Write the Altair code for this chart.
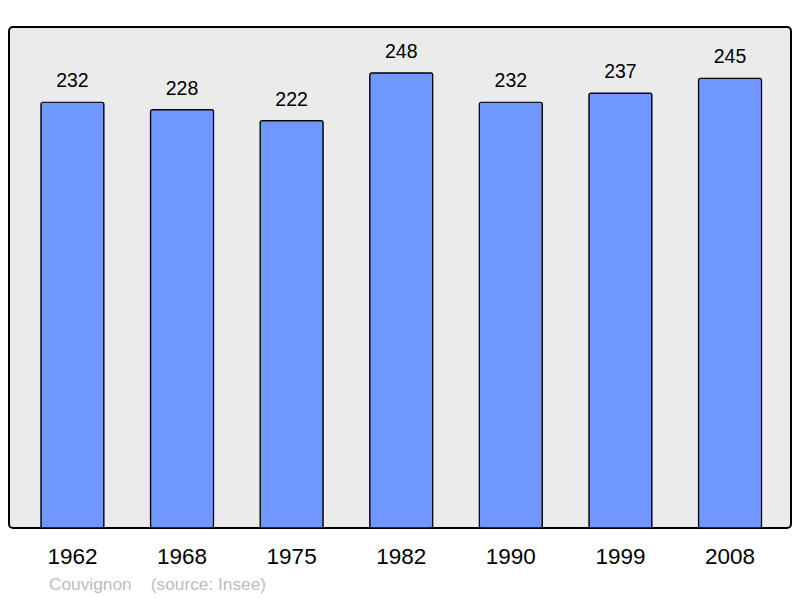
import altair as alt
import pandas as pd

years = ["1962", "1968", "1975", "1982", "1990", "1999", "2008"]
population = [232, 228, 222, 248, 232, 237, 245]

df = pd.DataFrame({"year": years, "pop": population})

FONT = "Liberation Sans"

x = alt.X("year:N", sort=years,
          scale=alt.Scale(paddingInner=0.425, paddingOuter=0.28, align=0.52),
          axis=alt.Axis(title=None, labelAngle=0, labelFontSize=22.5, labelFont=FONT,
                        labelColor="#000", ticks=False, domain=False, labelPadding=17.5))
y = alt.Y("pop:Q", scale=alt.Scale(domain=[0, 273], nice=False, zero=True), axis=None)

bars = alt.Chart(df).mark_bar(
    color="#7096ff", stroke="#000", strokeWidth=1.2, cornerRadius=2
).encode(x=x, y=y)

labels = alt.Chart(df).mark_text(
    baseline="alphabetic", dy=-15, fontSize=19.5, font=FONT, color="#000"
).encode(x=x, y=y, text="pop:Q")

chart = (bars + labels).properties(
    width=782, height=501,
    autosize=alt.AutoSizeParams(type="none"),
    padding={"left": 1, "top": 19, "right": 1, "bottom": 70},
    background="#ffffff",
    title=alt.TitleParams(
        text="Couvignon\u00a0\u00a0\u00a0 (source: Insee)",
        orient="bottom", anchor="start", fontSize=17.3, font=FONT,
        fontWeight="normal", color="#bdbdbd", offset=8, dx=40,
    ),
).configure_view(
    fill="#ebebeb", stroke="#000", strokeWidth=2, cornerRadius=4
)

chart.save("out.html", embed_options={"renderer": "svg", "actions": False})
